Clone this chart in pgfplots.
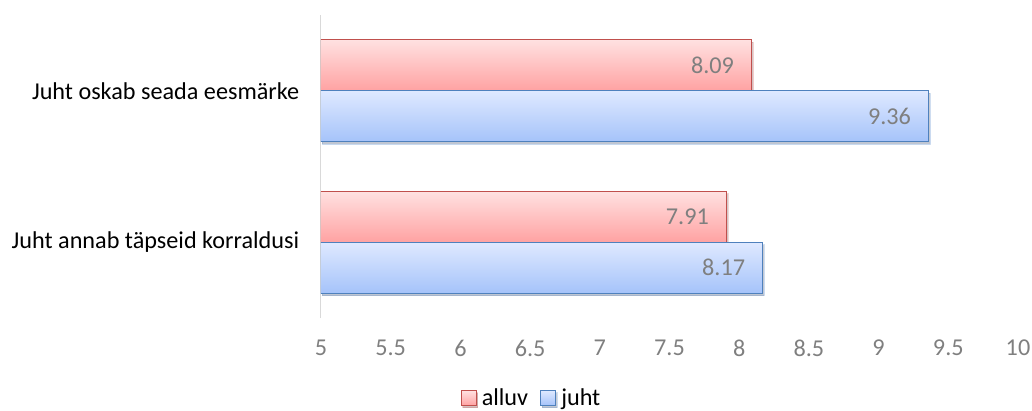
\documentclass[border=0pt]{standalone}
\usepackage{fontspec}
\setmainfont{Carlito}
\usepackage{pgfplots}
\pgfplotsset{compat=1.18}
\usetikzlibrary{shadows}
\definecolor{redB}{HTML}{C0504D}
\definecolor{redT}{HTML}{FFE1E1}
\definecolor{redL}{HTML}{FFA2A2}
\definecolor{bluB}{HTML}{4F81BD}
\definecolor{bluT}{HTML}{DFE9FF}
\definecolor{bluL}{HTML}{A5C3FA}
\definecolor{tickgray}{HTML}{7F7F7F}
\definecolor{axgray}{HTML}{D9D9D9}
\tikzset{
  redbar/.style={draw=redB, line width=1pt, top color=redT, bottom color=redL, bar shift=25.5pt,
    drop shadow={shadow xshift=1.5pt, shadow yshift=-2.5pt, opacity=0.22, fill=black}},
  blubar/.style={draw=bluB, line width=1pt, top color=bluT, bottom color=bluL, bar shift=-25.5pt,
    drop shadow={shadow xshift=1.5pt, shadow yshift=-2.5pt, opacity=0.22, fill=black}},
}
\begin{document}
\begin{tikzpicture}
\begin{axis}[
  at={(0pt,0pt)}, anchor=south west,
  scale only axis, width=697pt, height=303pt,
  xbar, bar width=51pt,
  xmin=5, xmax=10, ymin=-0.5, ymax=1.5,
  xtick={5,5.5,...,10},
  xticklabels={5,5.5,6,6.5,7,7.5,8,8.5,9,9.5,10},
  ytick={0,1},
  yticklabels={Juht annab täpseid korraldusi, Juht oskab seada eesmärke},
  extra y ticks={-0.5,0.5,1.5},
  extra y tick labels={},
  extra y tick style={major tick length=6pt, tick style={draw=axgray, line width=0.8pt}},
  major y tick style={draw=none},
  major x tick style={draw=none},
  tick align=outside,
  axis x line*=bottom,
  axis y line*=left,
  x axis line style={draw=none},
  y axis line style={draw=axgray, line width=1pt},
  tick label style={font=\fontsize{24.2pt}{29pt}\selectfont},
  xticklabel style={text=tickgray, yshift=-14pt},
  yticklabel style={text=black, xshift=-14pt},
  /pgf/number format/assume math mode=true,
  point meta=explicit symbolic,
  nodes near coords,
  nodes near coords style={anchor=east, xshift=-14pt, text=tickgray, font=\fontsize{24.2pt}{29pt}\selectfont},
  legend style={draw=none, at={(0.302,-0.264)}, anchor=center, legend columns=2,
    font=\fontsize{24.2pt}{29pt}\selectfont, /tikz/every even column/.append style={column sep=10pt}},
  legend image code/.code={\draw[#1, line width=1.3pt] (0pt,-7.5pt) rectangle (15pt,7.5pt); \path (18pt,0pt);},
  clip=true,
]
\addplot[redbar] coordinates {(8.09,1) [8.09]};
\addplot[blubar] coordinates {(9.36,1) [9.36]};
\addplot[redbar, forget plot] coordinates {(7.91,0) [7.91]};
\addplot[blubar, forget plot] coordinates {(8.17,0) [8.17]};
\legend{alluv, juht}
\end{axis}
\pgfresetboundingbox
\path[use as bounding box] (-321pt,-92pt) rectangle (711pt,318pt);
\end{tikzpicture}
\end{document}
